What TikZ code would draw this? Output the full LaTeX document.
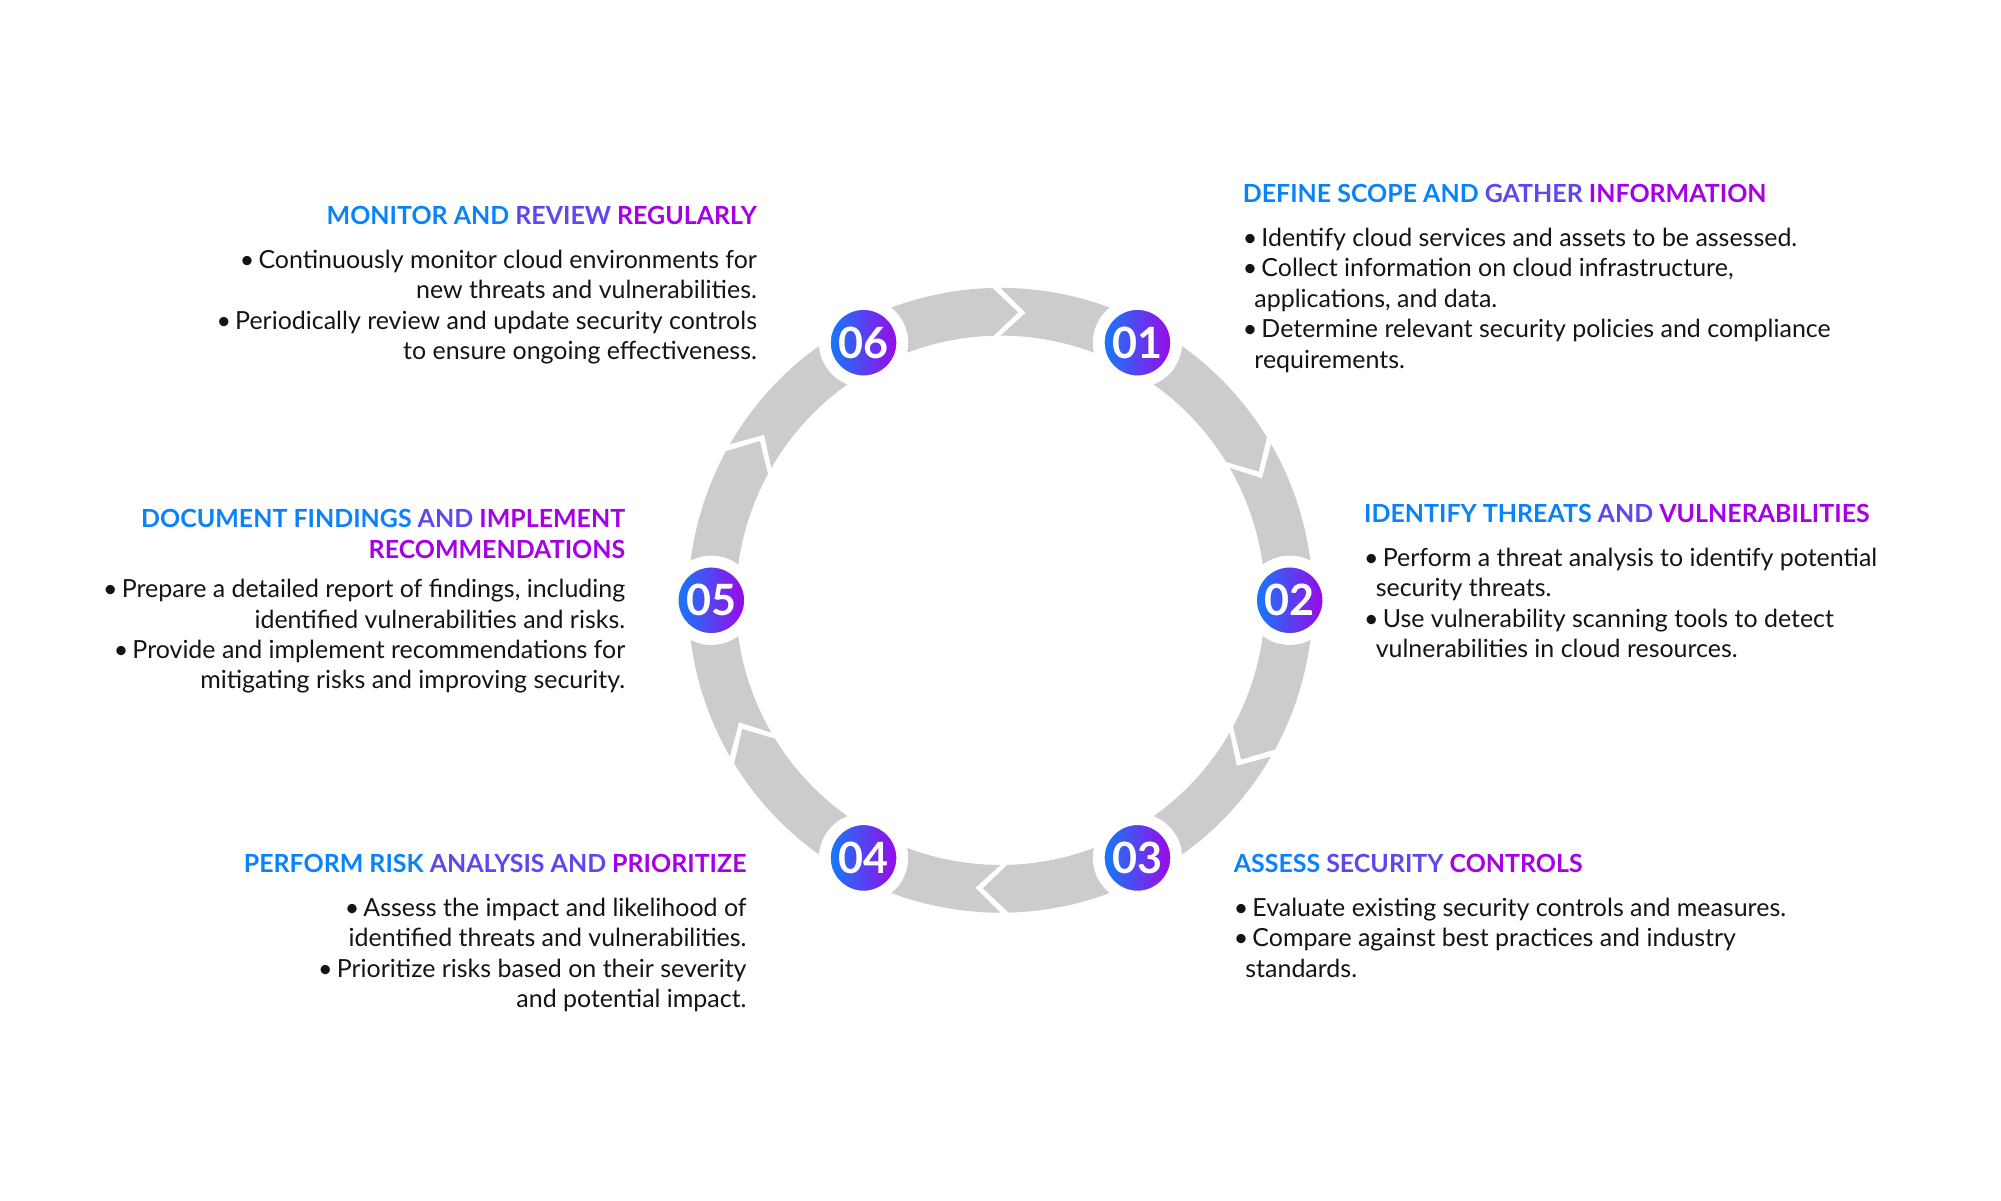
\documentclass[tikz,border=0pt]{standalone}
\usepackage{fontspec}
\setmainfont{Lato}
\usepackage{tikz}
\usetikzlibrary{calc}
\definecolor{cblue}{RGB}{10,130,250}
\definecolor{cpurp}{RGB}{165,0,230}
\definecolor{cmid}{RGB}{95,70,240}
\definecolor{ring}{RGB}{204,204,204}
\definecolor{ink}{RGB}{20,20,20}
\tikzset{
  badge/.style={circle, minimum size=0.6cm, inner sep=0pt, left color=cblue, right color=cpurp,
    draw=white, line width=2.6pt, text=white, font=\fontsize{9.5}{9.5}\selectfont\bfseries},
  txt/.style={inner sep=0pt, text=ink, font=\fontsize{5.5}{6.7}\selectfont},
}
\newcommand{\ttl}[3]{{\bfseries\textcolor{cblue}{#1}\textcolor{cmid}{#2}\textcolor{cpurp}{#3}}}
\begin{document}
\begin{tikzpicture}[y=-1cm]
	\useasboundingbox (0,0) rectangle (15.5,9.3);
	\coordinate (o) at (7.75,4.65);

	%% Ring of arrows
	\foreach \s in {90,30,-30,-90,-150,150}{
		\fill[ring] ($(o)+(\s:2.42 and -2.42)$) arc[start angle=-\s, end angle=-\s+58.5, radius=2.42]
			-- ($(o)+(\s-63.5:2.235 and -2.235)$)
			-- ($(o)+(\s-58.5:2.05 and -2.05)$) arc[start angle=-\s+58.5, end angle=-\s, radius=2.05]
			-- ($(o)+(\s-5:2.235 and -2.235)$) -- cycle;
	}

	%% Badges
	\node[badge] (b1) at ($(o)+(62:2.26 and -2.26)$) {01};
	\node[badge] (b2) at ($(o)+(0:2.24 and -2.24)$) {02};
	\node[badge] (b3) at ($(o)+(-62:2.26 and -2.26)$) {03};
	\node[badge] (b4) at ($(o)+(-118:2.26 and -2.26)$) {04};
	\node[badge] (b5) at ($(o)+(180:2.24 and -2.24)$) {05};
	\node[badge] (b6) at ($(o)+(118:2.26 and -2.26)$) {06};

	%% Texts
	\node[txt, anchor=north west, align=left] (t1) at (9.62,1.42) {%
		\ttl{DEFINE SCOPE AND }{GATHER }{INFORMATION}\\[1.05mm]
		\textbullet\,Identify cloud services and assets to be assessed.\\
		\textbullet\,Collect information on cloud infrastructure,\\
		\hspace{0.9mm}applications, and data.\\
		\textbullet\,Determine relevant security policies and compliance\\
		\hspace{0.9mm}requirements.};
	\node[txt, anchor=north west, align=left] (t2) at (10.56,3.90) {%
		\ttl{IDENTIFY THREATS }{AND }{VULNERABILITIES}\\[1.05mm]
		\textbullet\,Perform a threat analysis to identify potential\\
		\hspace{0.9mm}security threats.\\
		\textbullet\,Use vulnerability scanning tools to detect\\
		\hspace{0.9mm}vulnerabilities in cloud resources.};
	\node[txt, anchor=north west, align=left] (t3) at (9.55,6.61) {%
		\ttl{ASSESS }{SECURITY }{CONTROLS}\\[1.05mm]
		\textbullet\,Evaluate existing security controls and measures.\\
		\textbullet\,Compare against best practices and industry\\
		\hspace{0.9mm}standards.};
	\node[txt, anchor=north east, align=right] (t4) at (5.79,6.61) {%
		\ttl{PERFORM RISK }{ANALYSIS AND }{PRIORITIZE}\\[1.05mm]
		\textbullet\,Assess the impact and likelihood of\\
		identified threats and vulnerabilities.\\
		\textbullet\,Prioritize risks based on their severity\\
		and potential impact.};
	\node[txt, anchor=north east, align=right] (t5) at (4.85,3.94) {%
		\ttl{DOCUMENT FINDINGS }{AND }{IMPLEMENT}\\
		\ttl{}{}{RECOMMENDATIONS}\\[0.7mm]
		\textbullet\,Prepare a detailed report of findings, including\\
		identified vulnerabilities and risks.\\
		\textbullet\,Provide and implement recommendations for\\
		mitigating risks and improving security.};
	\node[txt, anchor=north east, align=right] (t6) at (5.87,1.59) {%
		\ttl{MONITOR AND }{REVIEW }{REGULARLY}\\[1.05mm]
		\textbullet\,Continuously monitor cloud environments for\\
		new threats and vulnerabilities.\\
		\textbullet\,Periodically review and update security controls\\
		to ensure ongoing effectiveness.};
\end{tikzpicture}
\end{document}
